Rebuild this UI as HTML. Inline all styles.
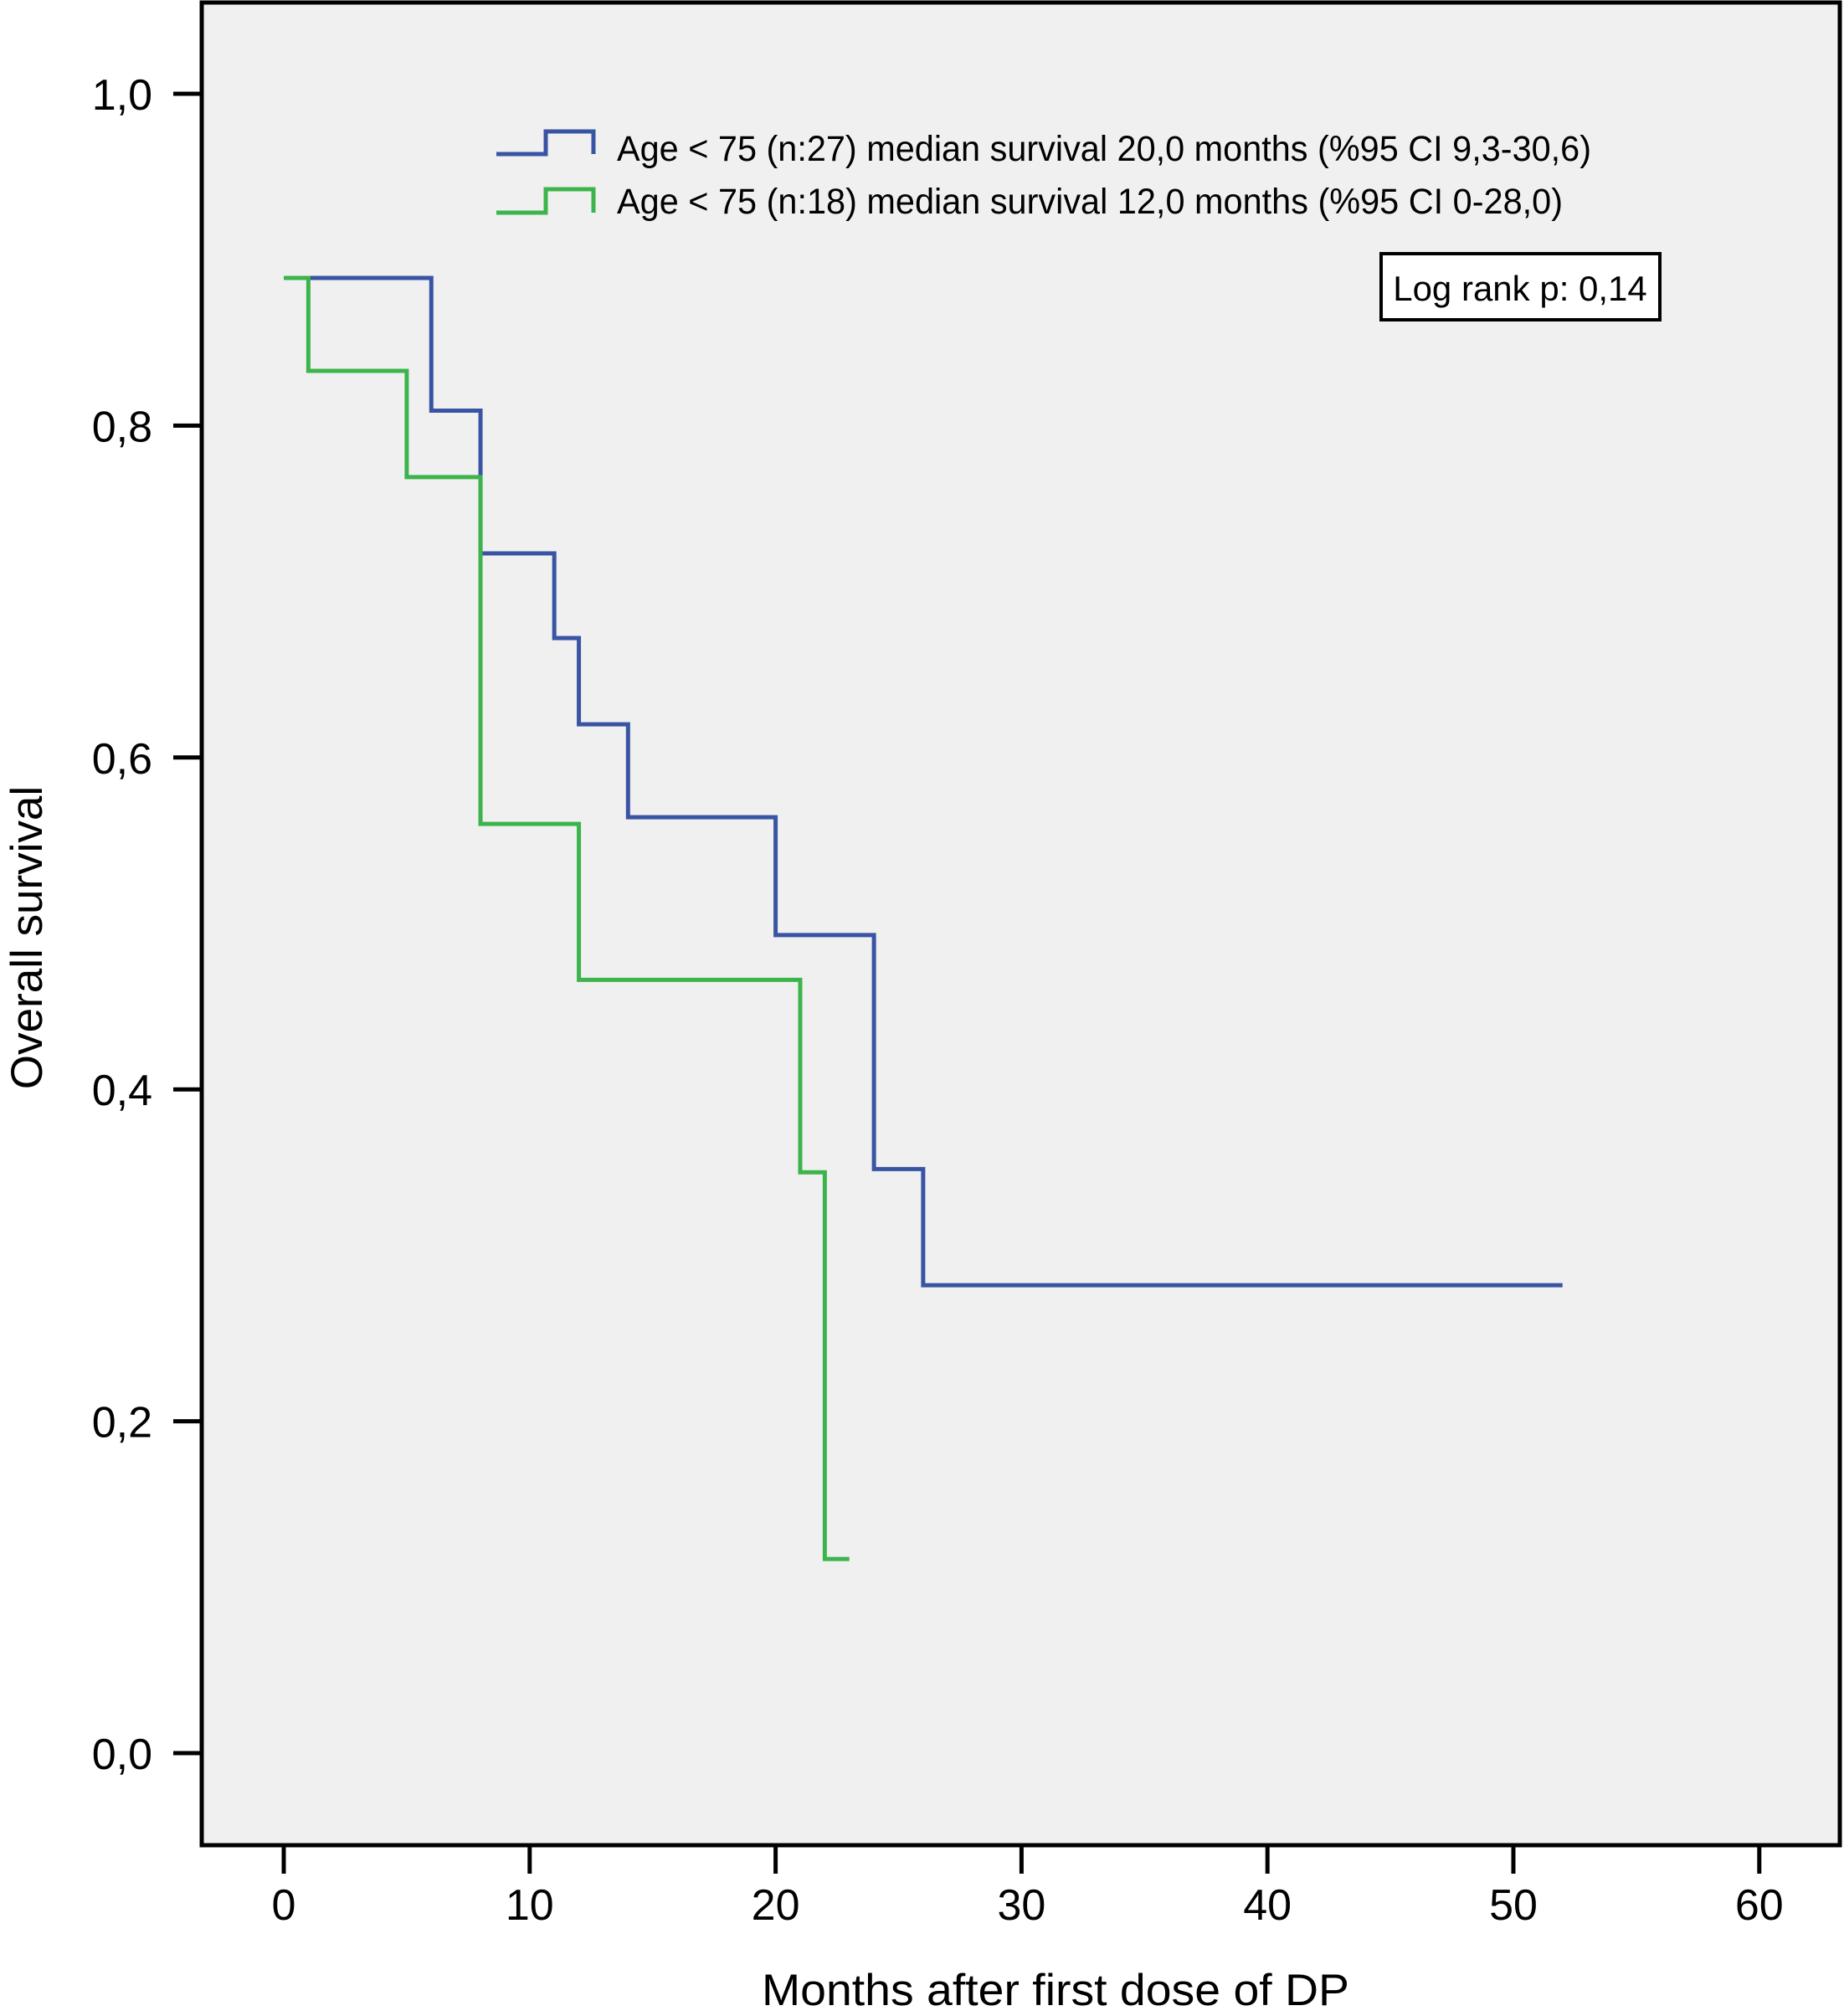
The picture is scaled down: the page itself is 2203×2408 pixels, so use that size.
<!DOCTYPE html>
<html><head><meta charset="utf-8"><style>
html,body{margin:0;padding:0;background:#fff;}
svg{display:block;font-family:"Liberation Sans",Arial,sans-serif;}
</style></head><body>
<svg id="chart" width="2203" height="2408" viewBox="0 0 2203 2408" xmlns="http://www.w3.org/2000/svg">
<rect x="241" y="3" width="1957" height="2201" fill="#f0f0f0" stroke="#000" stroke-width="5"/>
<g id="axes"></g>
<g id="series"></g>
<g>
<path d="M593 184 H652 V157 H709 V184" fill="none" stroke="#3a54a4" stroke-width="5"/>
<text x="737" y="192" font-size="43" textLength="1164" lengthAdjust="spacingAndGlyphs">Age &lt; 75 (n:27) median survival 20,0 months (%95 CI 9,3-30,6)</text>
<path d="M593 254 H652 V226 H709 V254" fill="none" stroke="#3cb44b" stroke-width="5"/>
<text x="737" y="255" font-size="43" textLength="1130" lengthAdjust="spacingAndGlyphs">Age &lt; 75 (n:18) median survival 12,0 months (%95 CI 0-28,0)</text>
</g>
<rect x="1650" y="303" width="333" height="79" fill="#fff" stroke="#000" stroke-width="4"/>
<text x="1816" y="359" font-size="42" text-anchor="middle">Log rank p: 0,14</text>
<text x="910" y="2395" font-size="53" textLength="702" lengthAdjust="spacingAndGlyphs">Months after first dose of DP</text>
<text x="50" y="1120" font-size="53" text-anchor="middle" transform="rotate(-90 50 1120)">Overall survival</text>
</svg>
<script>
const xTicks=[0,10,20,30,40,50,60];
const yTicks=[0,0.2,0.4,0.6,0.8,1.0];
const yTickLabels=["0,0","0,2","0,4","0,6","0,8","1,0"];
const blueTimes=[0,6,8,11,12,14,20,24,26,52];
const blueSurv=[0.889,0.809,0.723,0.672,0.620,0.564,0.493,0.352,0.282,0.282];
const greenTimes=[0,1,5,8,12,21,22,23];
const greenSurv=[0.889,0.833,0.769,0.560,0.466,0.350,0.117,0.117];
const NS='http://www.w3.org/2000/svg';
function sx(v){return 339+v*29.38;}
function sy(v){return 2094-v*1982;}
const axes=document.getElementById('axes');
xTicks.forEach(t=>{
  const l=document.createElementNS(NS,'line');
  
  
  l.setAttribute('x1',sx(t));l.setAttribute('x2',sx(t));l.setAttribute('y1',2204);l.setAttribute('y2',2238);
  l.setAttribute('stroke','#000');l.setAttribute('stroke-width',5);axes.appendChild(l);
  const tx=document.createElementNS(NS,'text');
  
  
  tx.setAttribute('x',sx(t));tx.setAttribute('y',2293);tx.setAttribute('font-size',52);tx.setAttribute('text-anchor','middle');
  tx.textContent=t;axes.appendChild(tx);
});
yTicks.forEach((t,i)=>{
  const l=document.createElementNS(NS,'line');
  
  
  l.setAttribute('x1',207);l.setAttribute('x2',241);l.setAttribute('y1',sy(t));l.setAttribute('y2',sy(t));
  l.setAttribute('stroke','#000');l.setAttribute('stroke-width',5);axes.appendChild(l);
  const tx=document.createElementNS(NS,'text');
  
  
  tx.setAttribute('x',182);tx.setAttribute('y',sy(t)+19);tx.setAttribute('font-size',52);tx.setAttribute('text-anchor','end');
  tx.textContent=yTickLabels[i];axes.appendChild(tx);
});
function step(times,surv,color,name){
  let d='M'+sx(times[0])+' '+sy(surv[0]);
  for(let i=1;i<times.length;i++){
    d+=' H'+sx(times[i])+' V'+sy(surv[i]);
  }
  const p=document.createElementNS(NS,'path');
  
  
  p.setAttribute('d',d);p.setAttribute('fill','none');p.setAttribute('stroke',color);p.setAttribute('stroke-width',5);
  document.getElementById('series').appendChild(p);
}
step(blueTimes,blueSurv,'#3a54a4','blue-survival-curve');
step(greenTimes,greenSurv,'#3cb44b','green-survival-curve');
</script>
</body></html>
